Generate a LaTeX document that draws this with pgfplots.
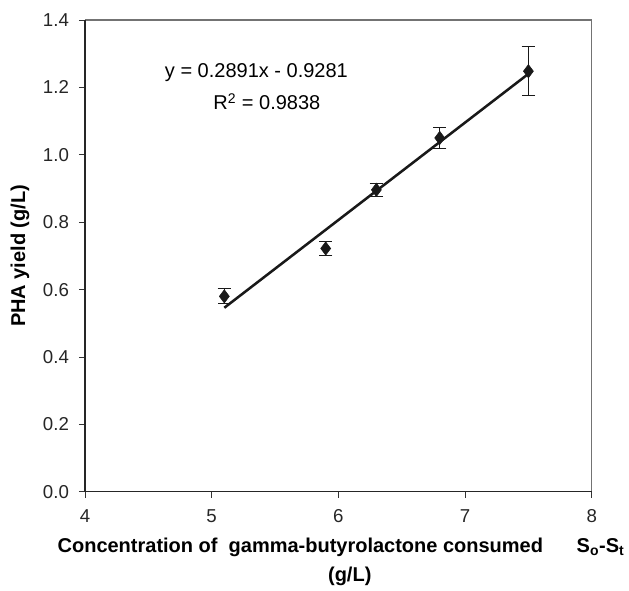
\documentclass[border=0pt]{standalone}
\usepackage{pgfplots}
\pgfplotsset{compat=1.18}
\usepackage{fontspec}
\setmainfont{Liberation Sans}
\begin{document}
\begin{tikzpicture}
\begin{axis}[
  scale only axis,
  width=380.25pt, height=354pt,
  xmin=4, xmax=8, ymin=0, ymax=1.4,
  xtick={4,5,6,7,8},
  ytick={0,0.2,0.4,0.6,0.8,1.0,1.2,1.4},
  yticklabel style={/pgf/number format/fixed,/pgf/number format/fixed zerofill,/pgf/number format/precision=1, xshift=-4pt},
  xticklabel style={yshift=-5pt},
  /pgf/number format/assume math mode=true,
  axis line style={line width=0.8pt, black!55},
  separate axis lines,
  x axis line style={-},
  y axis line style={-},
  xtick pos=bottom, ytick pos=left,
  tick align=outside,
  tick style={black!80, line width=0.6pt},
  major tick length=4.5pt,
  ticklabel style={font=\fontsize{14}{16}\selectfont, color=black!85},
  clip=false,
]
\addplot[only marks, mark=diamond*, mark size=5pt, black!90,
  error bars/.cd, y dir=both, y explicit, error mark options={rotate=90, mark size=5pt, line width=0.7pt}, error bar style={line width=0.7pt}]
  coordinates {
  (5.1,0.580) +- (0,0.022)
  (5.9,0.722) +- (0,0.020)
  (6.3,0.896) +- (0,0.020)
  (6.8,1.050) +- (0,0.030)
  (7.5,1.248) +- (0,0.073)
  };
\addplot[line width=1.9pt, black!90] coordinates {(5.1,0.5461) (7.5,1.2402)};
\draw[line width=0.9pt, black!85] (rel axis cs:0,0) -- (rel axis cs:1,0);
\draw[line width=0.9pt, black!85] (rel axis cs:0,0) -- (rel axis cs:0,1);
\node[font=\fontsize{15}{17}\selectfont, anchor=base] at (axis cs:5.353,1.228) {y = 0.2891x - 0.9281};
\node[font=\fontsize{15}{17}\selectfont, anchor=base] at (axis cs:5.436,1.133) {R\textsuperscript{2} = 0.9838};
\node[font=\bfseries\fontsize{15}{17}\selectfont, anchor=base] at (axis cs:5.70,-0.181) {Concentration of \ gamma-butyrolactone consumed};
\node[font=\bfseries\fontsize{15}{17}\selectfont, anchor=base] at (axis cs:8.07,-0.181) {S\textsubscript{o}-S\textsubscript{t}};
\node[font=\bfseries\fontsize{15}{17}\selectfont, anchor=base] at (axis cs:6.09,-0.267) {(g/L)};
\node[font=\bfseries\fontsize{15}{17}\selectfont, rotate=90] at (rel axis cs:-0.128,0.5) {PHA yield (g/L)};
\path (axis cs:4,0) ++(-63.75pt,-73.5pt) coordinate (bbA);
\path (axis cs:8,1.4) ++(27.75pt,15pt) coordinate (bbB);
\end{axis}
\path (bbA) rectangle (bbB);
\end{tikzpicture}
\end{document}
